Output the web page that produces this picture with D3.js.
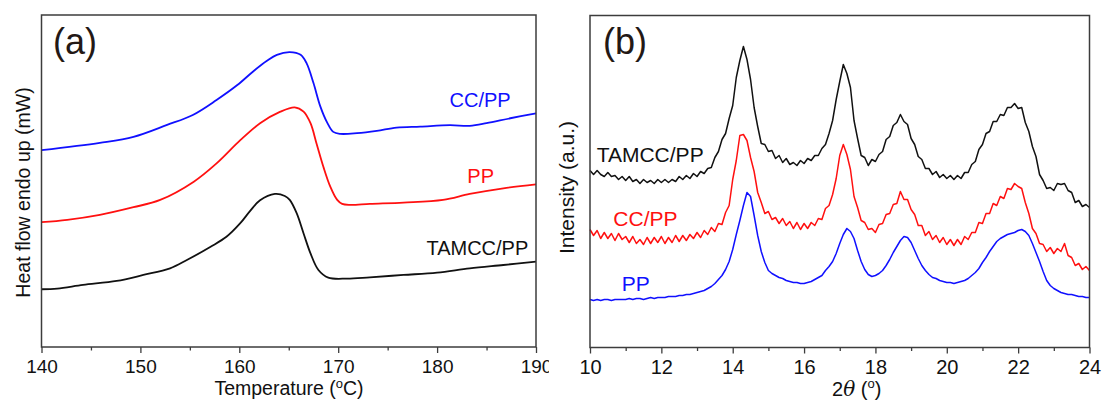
<!DOCTYPE html>
<html>
<head>
<meta charset="utf-8">
<script src="https://cdn.jsdelivr.net/npm/d3@7"></script>
<style>
  body { margin: 0; background: #fff; }
  svg { display: block; font-family: "Liberation Sans", Arial, sans-serif; }
</style>
</head>
<body>
<svg id="chart"></svg>
<script>
// ---- (a) DSC curves, heat flow in arbitrary units ----
let ccppTemp = [140, 145.9, 149.3, 152.7, 155.3, 157.7, 159.8, 161.4, 162.8, 163.8, 165.1, 166.2, 166.8, 167.5, 168.2, 168.9, 169.5, 170.2, 171.9, 173.9, 175.9, 178.3, 181.3, 183.3, 185.0, 187.4, 190];
let ccppFlow = [5.93, 6.15, 6.33, 6.69, 6.99, 7.44, 7.89, 8.30, 8.62, 8.80, 8.88, 8.80, 8.55, 7.95, 7.24, 6.75, 6.48, 6.42, 6.44, 6.51, 6.61, 6.64, 6.68, 6.66, 6.74, 6.89, 7.04];

let ppTemp = [140, 142.6, 145.9, 149.3, 152.0, 155.4, 157.7, 160.1, 162.1, 164.1, 165.6, 166.5, 167.2, 167.8, 168.5, 169.2, 169.9, 170.4, 171.2, 173.2, 176.6, 180.6, 183.3, 186.7, 190];
let ppFlow = [3.76, 3.83, 3.98, 4.21, 4.43, 4.98, 5.53, 6.23, 6.74, 7.08, 7.22, 7.09, 6.74, 6.14, 5.43, 4.83, 4.43, 4.31, 4.28, 4.31, 4.35, 4.43, 4.61, 4.78, 4.90];

let tamccTemp = [140, 141.6, 144.2, 147.6, 150.3, 153.0, 154.7, 157.1, 158.7, 160.1, 161.1, 162.1, 163.6, 164.6, 165.1, 165.8, 166.5, 167.2, 168.0, 169.0, 170.9, 173.2, 176.6, 180.0, 183.3, 186.7, 190];
let tamccFlow = [1.74, 1.76, 1.87, 1.99, 2.17, 2.37, 2.62, 3.02, 3.32, 3.73, 4.10, 4.42, 4.61, 4.55, 4.43, 4.03, 3.42, 2.82, 2.32, 2.09, 2.06, 2.10, 2.17, 2.24, 2.37, 2.47, 2.57];

let tempTicks = [140, 150, 160, 170, 180, 190];
let tempMinor = [145, 155, 165, 175, 185];

// ---- (b) XRD patterns, 2theta from 10 to 24 in 0.1 steps ----
let xrdStart = 10;
let xrdStep = 0.1;

let xrdTamcc = [177, 173, 177, 173, 171, 175, 171, 172, 168, 171,
  167, 171, 166, 168, 164, 168, 165, 167, 164, 168,
  165, 168, 165, 168, 166, 171, 168, 172, 169, 174,
  171, 176, 174, 179, 180, 190, 196, 208, 214, 229,
  242, 270, 287, 301, 288, 268, 240, 221, 204, 203,
  196, 197, 189, 192, 185, 189, 183, 185, 182, 187,
  184, 189, 187, 192, 192, 199, 203, 214, 227, 248,
  266, 283, 274, 260, 227, 209, 192, 190, 182, 188,
  186, 193, 196, 208, 211, 222, 225, 233, 226, 223,
  209, 203, 191, 188, 179, 179, 173, 176, 170, 173,
  169, 172, 168, 172, 169, 175, 175, 183, 186, 198,
  203, 214, 216, 226, 226, 233, 232, 240, 240, 244,
  239, 240, 225, 216, 201, 191, 173, 167, 159, 160,
  157, 164, 163, 164, 157, 155, 145, 147, 141, 143,
  140];

let xrdCcpp = [118, 112, 117, 109, 115, 109, 114, 107, 114, 108,
  111, 105, 111, 104, 108, 103, 110, 104, 110, 105,
  111, 104, 110, 105, 112, 106, 112, 107, 113, 109,
  115, 110, 117, 113, 120, 116, 124, 123, 135, 142,
  168, 187, 212, 213, 207, 190, 176, 155, 145, 134,
  136, 128, 130, 124, 129, 122, 126, 119, 125, 118,
  124, 119, 125, 122, 129, 128, 139, 142, 153, 169,
  192, 203, 193, 178, 151, 140, 127, 125, 118, 119,
  115, 123, 124, 133, 134, 143, 144, 156, 148, 148,
  138, 133, 122, 122, 112, 116, 108, 112, 105, 110,
  103, 108, 102, 108, 103, 111, 108, 115, 115, 125,
  124, 134, 134, 144, 142, 151, 149, 159, 158, 164,
  161, 159, 145, 134, 119, 114, 104, 103, 96, 100,
  94, 99, 96, 104, 92, 90, 82, 84, 78, 81,
  77];

let xrdPp = [48, 47, 48, 47, 48, 48, 47, 48, 48, 48,
  48, 49, 48, 49, 49, 48, 49, 50, 49, 50,
  50, 50, 51, 51, 51, 52, 52, 53, 53, 54,
  55, 56, 57, 59, 61, 64, 68, 72, 78, 86,
  98, 113, 127, 142, 155, 151, 132, 112, 96, 85,
  77, 74, 72, 70, 69, 67, 66, 65, 65, 64,
  64, 65, 66, 68, 70, 72, 77, 81, 86, 94,
  104, 113, 119, 116, 109, 97, 86, 78, 73, 71,
  72, 74, 77, 82, 88, 95, 101, 107, 111, 110,
  105, 97, 89, 82, 77, 73, 70, 69, 67, 66,
  65, 65, 64, 65, 66, 67, 69, 72, 75, 79,
  85, 90, 96, 101, 106, 109, 111, 113, 114, 115,
  117, 118, 116, 112, 104, 95, 86, 76, 67, 62,
  59, 57, 55, 54, 53, 53, 52, 51, 51, 50,
  50];

let angleTicks = [10, 12, 14, 16, 18, 20, 22, 24];
let angleMinor = [11, 13, 15, 17, 19, 21, 23];

let width = 1102;
let height = 401;

let svg = d3.select("#chart").attr("width", width).attr("height", height);

let frameColor = "#3c3c3c";

let drawFrame = (x0, x1, y0, y1) => {
  svg.append("rect")
    .attr("x", x0).attr("y", y0)
    .attr("width", x1 - x0).attr("height", y1 - y0)
    .attr("fill", "none")
    .attr("stroke", frameColor)
    .attr("stroke-width", 1.5);
};

let drawXAxis = (scale, major, minor, y, fontSize, pad, clipId) => {
  let g = svg.append("g").attr("transform", "translate(0," + y + ")");
  if (clipId) g.attr("clip-path", "url(#" + clipId + ")");
  g.call(d3.axisBottom(scale).tickValues(major).tickSize(6).tickPadding(pad).tickFormat(d3.format("d")));
  g.append("g").call(d3.axisBottom(scale).tickValues(minor).tickSize(3.5).tickFormat(""));
  g.selectAll(".domain").remove();
  g.selectAll("line").attr("stroke", frameColor).attr("stroke-width", 1.3);
  g.selectAll("text")
    .attr("fill", "#111")
    .style("font-size", fontSize + "px")
    .style("font-family", '"Liberation Sans", Arial, sans-serif');
};

// ================= panel (a) =================
let xA = d3.scaleLinear().domain([140, 190]).range([41.5, 536]);
let yA = d3.scaleLinear().domain([0, 10]).range([347, 15]);

svg.append("defs").append("clipPath").attr("id", "clipA")
  .append("rect").attr("x", 0).attr("y", 0).attr("width", 549).attr("height", height);

let dscLine = d3.line()
  .x((d) => xA(d[0]))
  .y((d) => yA(d[1]))
  .curve(d3.curveCatmullRom.alpha(0.5));

let dscSeries = [
  { t: ccppTemp, v: ccppFlow, color: "#1010ff" },
  { t: ppTemp, v: ppFlow, color: "#ff1010" },
  { t: tamccTemp, v: tamccFlow, color: "#111111" },
];

dscSeries.forEach((s) => {
  svg.append("path")
    .datum(s.t.map((t, i) => [t, s.v[i]]))
    .attr("d", dscLine)
    .attr("fill", "none")
    .attr("stroke", s.color)
    .attr("stroke-width", 1.8);
});

drawFrame(41.5, 536, 15, 347);
drawXAxis(xA, tempTicks, tempMinor, 347, 19, 7, "clipA");

svg.append("text")
  .attr("x", 53).attr("y", 53.5)
  .attr("fill", "#231815")
  .style("font-size", "36px")
  .text("(a)");

let xTitleA = svg.append("text")
  .attr("x", 289).attr("y", 394.5)
  .attr("text-anchor", "middle")
  .attr("fill", "#111")
  .style("font-size", "19.5px");
xTitleA.append("tspan").text("Temperature (");
xTitleA.append("tspan").attr("dy", -7).style("font-size", "13px").text("o");
xTitleA.append("tspan").attr("dy", 7).text("C)");

svg.append("text")
  .attr("transform", "translate(29.5,192.5) rotate(-90)")
  .attr("text-anchor", "middle")
  .attr("fill", "#111")
  .style("font-size", "19.5px")
  .text("Heat flow endo up (mW)");

let labelsA = [
  { text: "CC/PP", x: 510.7, y: 107, color: "#1010ff" },
  { text: "PP", x: 494, y: 182.7, color: "#ff1010" },
  { text: "TAMCC/PP", x: 528.3, y: 255, color: "#111111" },
];
labelsA.forEach((l) => {
  svg.append("text")
    .attr("x", l.x).attr("y", l.y)
    .attr("text-anchor", "end")
    .attr("fill", l.color)
    .style("font-size", "20px")
    .text(l.text);
});

// ================= panel (b) =================
let xB = d3.scaleLinear().domain([10, 24]).range([590, 1089.5]);
let yB = d3.scaleLinear().domain([0, 332]).range([347.5, 15.5]);

let xrdLine = d3.line()
  .x((d, i) => xB(xrdStart + i * xrdStep))
  .y((d) => yB(d));

let xrdSeries = [
  { v: xrdTamcc, color: "#111111" },
  { v: xrdCcpp, color: "#ff1010" },
  { v: xrdPp, color: "#1010ff" },
];

xrdSeries.forEach((s) => {
  svg.append("path")
    .datum(s.v)
    .attr("d", xrdLine)
    .attr("fill", "none")
    .attr("stroke", s.color)
    .attr("stroke-width", 1.5)
    .attr("stroke-linejoin", "round");
});

drawFrame(590, 1089.5, 15.5, 347.5);
drawXAxis(xB, angleTicks, angleMinor, 347.5, 20, 6.5, null);

svg.append("text")
  .attr("x", 603).attr("y", 53.5)
  .attr("fill", "#231815")
  .style("font-size", "36px")
  .text("(b)");

let xTitleB = svg.append("text")
  .attr("x", 832).attr("y", 396)
  .attr("fill", "#111")
  .style("font-size", "20px");
xTitleB.append("tspan").text("2");
xTitleB.append("tspan").style("font-style", "italic").style("font-family", '"DejaVu Serif", "Liberation Serif", serif').text("θ");
xTitleB.append("tspan").text(" (");
xTitleB.append("tspan").attr("dy", -8).style("font-size", "13px").text("o");
xTitleB.append("tspan").attr("dy", 8).text(")");

svg.append("text")
  .attr("transform", "translate(574,187.5) rotate(-90)")
  .attr("text-anchor", "middle")
  .attr("fill", "#111")
  .style("font-size", "21px")
  .text("Intensity (a.u.)");

let labelsB = [
  { text: "TAMCC/PP", x: 596.7, y: 161.7, color: "#111111" },
  { text: "CC/PP", x: 613.3, y: 226, color: "#ff1010" },
  { text: "PP", x: 621.7, y: 290.7, color: "#1010ff" },
];
labelsB.forEach((l) => {
  svg.append("text")
    .attr("x", l.x).attr("y", l.y)
    .attr("fill", l.color)
    .style("font-size", "21px")
    .text(l.text);
});
</script>
</body>
</html>
